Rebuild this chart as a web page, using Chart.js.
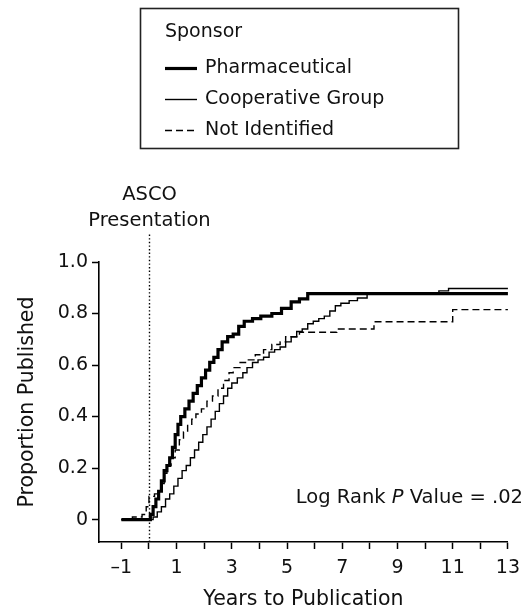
<!DOCTYPE html>
<html>
<head>
<meta charset="utf-8">
<script src="https://cdn.jsdelivr.net/npm/chart.js@4.4.1/dist/chart.umd.min.js"></script>
<style>
    html, body { margin: 0; padding: 0; background: #fff; }
    canvas { display: block; }
</style>
</head>
<body>
<canvas id="publicationChart" width="528" height="612"></canvas>
<script>
// cumulative proportion published
const pharmaYears = [-1, 0.05, 0.15, 0.25, 0.35, 0.45, 0.55, 0.65, 0.75, 0.85, 0.95, 1.05, 1.15, 1.3, 1.45, 1.6, 1.75, 1.9, 2.05, 2.2, 2.35, 2.5, 2.65, 2.85, 3.05, 3.25, 3.45, 3.75, 4.05, 4.45, 4.8, 5.15, 5.45, 5.75, 13];
const pharmaProp = [0, 0.02, 0.05, 0.08, 0.11, 0.15, 0.19, 0.21, 0.24, 0.28, 0.33, 0.37, 0.40, 0.43, 0.46, 0.49, 0.52, 0.55, 0.58, 0.61, 0.63, 0.66, 0.69, 0.71, 0.72, 0.75, 0.77, 0.78, 0.79, 0.80, 0.82, 0.845, 0.857, 0.877, 0.877];

const coopYears = [-1, 0, 0.15, 0.3, 0.45, 0.6, 0.75, 0.9, 1.05, 1.2, 1.35, 1.5, 1.65, 1.8, 1.95, 2.1, 2.25, 2.4, 2.55, 2.7, 2.85, 3.0, 3.2, 3.4, 3.55, 3.75, 3.95, 4.15, 4.35, 4.55, 4.75, 4.95, 5.15, 5.35, 5.55, 5.75, 5.95, 6.15, 6.35, 6.55, 6.75, 6.95, 7.25, 7.55, 7.9, 10.5, 10.85, 13];
const coopProp = [0, 0, 0.01, 0.03, 0.05, 0.08, 0.10, 0.13, 0.16, 0.19, 0.21, 0.24, 0.27, 0.30, 0.33, 0.36, 0.39, 0.42, 0.45, 0.48, 0.51, 0.53, 0.55, 0.57, 0.59, 0.61, 0.62, 0.63, 0.65, 0.66, 0.67, 0.69, 0.71, 0.73, 0.74, 0.76, 0.77, 0.78, 0.79, 0.81, 0.83, 0.84, 0.85, 0.86, 0.877, 0.888, 0.897, 0.897];

const otherYears = [-1, -0.6, -0.25, -0.1, 0.0, 0.2, 0.35, 0.45, 0.55, 0.65, 0.8, 0.95, 1.1, 1.25, 1.4, 1.55, 1.7, 1.9, 2.1, 2.3, 2.5, 2.7, 2.9, 3.05, 3.3, 3.55, 3.85, 4.15, 4.45, 4.75, 4.95, 5.45, 6.8, 8.15, 11.0, 13];
const otherProp = [0, 0.01, 0.02, 0.05, 0.09, 0.10, 0.11, 0.14, 0.18, 0.21, 0.24, 0.27, 0.31, 0.34, 0.37, 0.39, 0.41, 0.43, 0.46, 0.48, 0.51, 0.54, 0.57, 0.59, 0.61, 0.62, 0.64, 0.66, 0.68, 0.69, 0.71, 0.727, 0.74, 0.768, 0.815, 0.815];

const xTickValues = [-1, 0, 1, 2, 3, 4, 5, 6, 7, 8, 9, 10, 11, 12, 13];
const yTickValues = [0, 0.2, 0.4, 0.6, 0.8, 1.0];
const presentationYear = 0;

const FONT = "'DejaVu Sans', sans-serif";
const INK = '#000';

function toPoints(xs, ys) {
    return xs.map((x, i) => ({ x: x, y: ys[i] }));
}

// legend box, ASCO marker and log rank note
const notesPlugin = {
    id: 'notes',
    afterDatasetsDraw(chart) {
        const { ctx, scales: { x, y } } = chart;
        ctx.save();

        // ASCO presentation line
        const px = Math.round(x.getPixelForValue(presentationYear)) + 0.5;
        ctx.strokeStyle = INK;
        ctx.lineWidth = 1.4;
        ctx.setLineDash([1.4, 2.2]);
        ctx.beginPath();
        ctx.moveTo(px, y.bottom);
        ctx.lineTo(px, y.getPixelForValue(1.11));
        ctx.stroke();
        ctx.setLineDash([]);

        ctx.fillStyle = '#111';
        ctx.font = '19.5px ' + FONT;
        ctx.textAlign = 'center';
        ctx.textBaseline = 'middle';
        ctx.fillText('ASCO', px, 195);
        ctx.fillText('Presentation', px, 221);

        // Log Rank P Value = .02 (P in italics)
        const parts = [['Log Rank ', ''], ['P', 'italic '], [' Value = .02', '']];
        let total = 0;
        parts.forEach(p => { ctx.font = p[1] + '19.5px ' + FONT; total += ctx.measureText(p[0]).width; });
        let tx = 523 - total;
        ctx.textAlign = 'left';
        parts.forEach(p => {
            ctx.font = p[1] + '19.5px ' + FONT;
            ctx.fillText(p[0], tx, 498);
            tx += ctx.measureText(p[0]).width;
        });

        // legend
        ctx.strokeStyle = '#222';
        ctx.lineWidth = 1.6;
        ctx.strokeRect(140.5, 8.5, 318, 140);
        ctx.font = '19px ' + FONT;
        ctx.fillText('Sponsor', 165, 32);
        const rows = [68, 99, 130];
        chart.data.datasets.forEach((ds, i) => {
            ctx.strokeStyle = INK;
            ctx.lineWidth = ds.borderWidth;
            ctx.setLineDash(ds.borderDash || []);
            ctx.beginPath();
            ctx.moveTo(165, rows[i] + 0.5);
            ctx.lineTo(197, rows[i] + 0.5);
            ctx.stroke();
            ctx.setLineDash([]);
            ctx.fillText(ds.label, 205, rows[i]);
        });
        ctx.restore();
    }
};

const ctx = document.getElementById('publicationChart').getContext('2d');
new Chart(ctx, {
    type: 'line',
    data: {
        datasets: [
            {
                label: 'Pharmaceutical',
                data: toPoints(pharmaYears, pharmaProp),
                borderColor: INK,
                borderWidth: 3.2,
                stepped: true,
            },
            {
                label: 'Cooperative Group',
                data: toPoints(coopYears, coopProp),
                borderColor: INK,
                borderWidth: 1.4,
                stepped: true,
            },
            {
                label: 'Not Identified',
                data: toPoints(otherYears, otherProp),
                borderColor: INK,
                borderWidth: 1.4,
                borderDash: [7, 4],
                stepped: true,
            }
        ]
    },
    options: {
        responsive: false,
        animation: false,
        devicePixelRatio: 1,
        layout: { padding: { top: 262, right: 15, bottom: 0, left: 0 } },
        elements: { point: { radius: 0 } },
        plugins: {
            legend: { display: false },
            tooltip: { enabled: false }
        },
        scales: {
            x: {
                type: 'linear',
                min: -1.81,
                max: 13,
                afterBuildTicks: s => { s.ticks = xTickValues.map(v => ({ value: v })); },
                afterFit: s => { s.height = 70; },
                ticks: {
                    autoSkip: false,
                    maxRotation: 0,
                    padding: 8,
                    color: '#111',
                    font: { family: FONT, size: 19 },
                    callback: v => (v % 2 !== 0 ? (v < 0 ? '\u2013' + Math.abs(v) : String(v)) : '')
                },
                grid: { drawOnChartArea: false, tickLength: 7, tickWidth: 1.5, tickColor: INK },
                border: { color: INK, width: 1.6 },
                title: {
                    display: true,
                    text: 'Years to Publication',
                    color: '#111',
                    font: { family: FONT, size: 20.5 },
                    padding: { top: 0, bottom: 0 }
                }
            },
            y: {
                min: -0.087,
                max: 1.0,
                afterBuildTicks: s => { s.ticks = yTickValues.map(v => ({ value: v })); },
                afterFit: s => { s.width = 99; },
                ticks: {
                    padding: 4,
                    color: '#111',
                    font: { family: FONT, size: 19 },
                    callback: v => (v === 0 ? '0' : v.toFixed(1))
                },
                grid: { drawOnChartArea: false, tickLength: 7, tickWidth: 1.5, tickColor: INK },
                border: { color: INK, width: 1.6 },
                title: {
                    display: true,
                    text: 'Proportion Published',
                    color: '#111',
                    font: { family: FONT, size: 20.5 },
                    padding: { top: 15, bottom: 0 }
                }
            }
        }
    },
    plugins: [notesPlugin]
});
</script>
</body>
</html>
